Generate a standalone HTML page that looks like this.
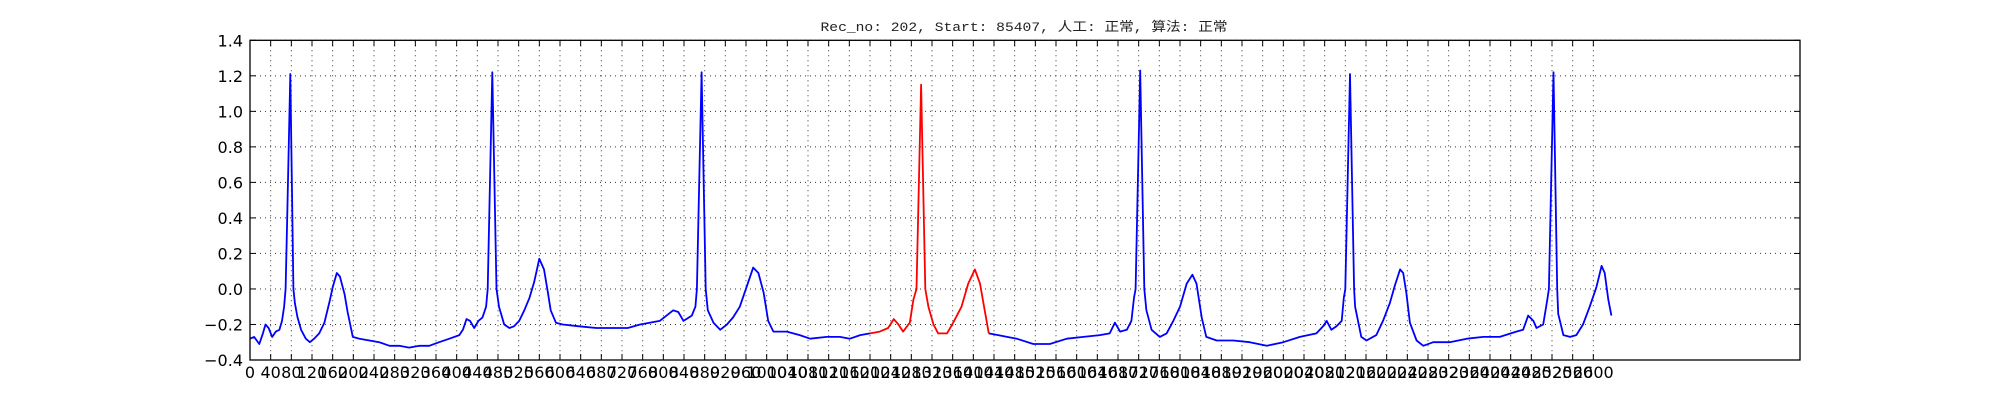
<!DOCTYPE html>
<html><head><meta charset="utf-8">
<style>
html,body{margin:0;padding:0;background:#fff;}
svg{display:block;}
text{font-family:"DejaVu Sans","Liberation Sans",sans-serif;}
</style></head>
<body>
<svg id="chart" width="2000" height="400" viewBox="0 0 2000 400" xmlns="http://www.w3.org/2000/svg">
<rect width="2000" height="400" fill="#fff"/>
<text x="1024" y="31" text-anchor="middle" font-size="13" style="font-family:'Liberation Mono','Noto Sans CJK SC',monospace" fill="#222" textLength="407" lengthAdjust="spacingAndGlyphs">Rec_no: 202, Start: 85407, 人工: 正常, 算法: 正常</text>
<g id="grid"></g>
<g id="ticks"></g>
<g id="series"></g>
<rect x="250" y="40.3" width="1550" height="319.7" fill="none" stroke="#000" stroke-width="1.3"/>
</svg>
<script>
const sampleX = [0,8,18,25,30,36,43,50,57,62,66,69,72,78,84,87,92,99,108,116,124,134,144,154,160,168,174,183,189,199,212,231,250,270,289,308,328,347,366,386,405,412,419,426,434,442,450,457,460,469,477,482,492,502,511,521,531,541,550,560,569,576,582,592,605,637,670,702,731,755,793,819,829,839,855,862,865,874,882,886,897,910,923,935,948,961,974,984,994,1003,1013,1039,1064,1084,1116,1142,1161,1181,1200,1219,1235,1246,1255,1264,1277,1284,1290,1299,1307,1313,1323,1332,1349,1361,1377,1390,1403,1413,1422,1430,1448,1484,1516,1548,1581,1613,1645,1664,1674,1684,1697,1706,1711,1714,1723,1731,1735,1745,1761,1774,1787,1800,1813,1824,1832,1842,1851,1871,1903,1935,1968,2000,2032,2064,2077,2084,2093,2103,2113,2117,2120,2129,2137,2139,2151,2161,2180,2193,2206,2216,2226,2232,2238,2245,2258,2271,2290,2322,2355,2387,2419,2451,2464,2474,2484,2490,2503,2511,2514,2523,2530,2532,2542,2555,2567,2580,2593,2606,2616,2622,2629,2635];
const sampleY = [-0.28,-0.27,-0.31,-0.25,-0.20,-0.22,-0.27,-0.24,-0.23,-0.18,-0.10,0.0,0.4,1.21,0.0,-0.08,-0.16,-0.23,-0.28,-0.30,-0.28,-0.25,-0.19,-0.07,0.01,0.09,0.07,-0.03,-0.13,-0.27,-0.28,-0.29,-0.30,-0.32,-0.32,-0.33,-0.32,-0.32,-0.30,-0.28,-0.26,-0.23,-0.17,-0.18,-0.22,-0.18,-0.16,-0.10,0.0,1.22,0.0,-0.10,-0.20,-0.22,-0.21,-0.18,-0.12,-0.05,0.04,0.17,0.11,-0.01,-0.12,-0.19,-0.20,-0.21,-0.22,-0.22,-0.22,-0.20,-0.18,-0.12,-0.13,-0.18,-0.15,-0.10,0.0,1.22,0.0,-0.12,-0.19,-0.23,-0.20,-0.16,-0.10,0.01,0.12,0.09,-0.02,-0.18,-0.24,-0.24,-0.26,-0.28,-0.27,-0.27,-0.28,-0.26,-0.25,-0.24,-0.22,-0.17,-0.20,-0.24,-0.19,-0.06,0.0,1.15,0.0,-0.10,-0.20,-0.25,-0.25,-0.19,-0.10,0.03,0.11,0.03,-0.12,-0.25,-0.26,-0.28,-0.31,-0.31,-0.28,-0.27,-0.26,-0.25,-0.19,-0.24,-0.23,-0.18,-0.05,0.0,1.23,0.0,-0.12,-0.23,-0.27,-0.25,-0.18,-0.10,0.03,0.08,0.03,-0.16,-0.27,-0.29,-0.29,-0.30,-0.32,-0.30,-0.27,-0.25,-0.21,-0.18,-0.23,-0.21,-0.18,-0.05,0.0,1.21,0.0,-0.10,-0.27,-0.29,-0.26,-0.18,-0.08,0.02,0.11,0.09,-0.02,-0.19,-0.29,-0.32,-0.30,-0.30,-0.28,-0.27,-0.27,-0.24,-0.23,-0.15,-0.18,-0.22,-0.20,-0.06,0.0,1.22,0.0,-0.14,-0.26,-0.27,-0.26,-0.20,-0.10,0.01,0.13,0.09,-0.06,-0.15];
const redStart = 1200, redEnd = 1430;
const yTicks = [-0.4,-0.2,0.0,0.2,0.4,0.6,0.8,1.0,1.2,1.4];
const yTickLabels = ["\u22120.4","\u22120.2","0.0","0.2","0.4","0.6","0.8","1.0","1.2","1.4"];
const xTicks = [];
for (let v = 0; v <= 2600; v += 40) xTicks.push(v);

const X0=250, X1=1800, Y0=360, Y1=40.3, XMAX=3000, YMIN=-0.4, YMAX=1.4;
const sx = v => X0 + (v/XMAX)*(X1-X0);
const sy = v => Y0 - (v-YMIN)/(YMAX-YMIN)*(Y0-Y1);
const NS="http://www.w3.org/2000/svg";
const grid=document.getElementById('grid'), ticks=document.getElementById('ticks'), series=document.getElementById('series');
function mk(tag, attrs, parent){const e=document.createElementNS(NS,tag);for(const k in attrs)e.setAttribute(k,attrs[k]);parent.appendChild(e);return e;}

yTicks.forEach((v,i)=>{
  const y=sy(v);
  const g=mk('line',{x1:X0,x2:X1,y1:y,y2:y,stroke:'#333','stroke-width':1,'stroke-dasharray':'1,4'},grid);
  
  
  mk('line',{x1:X0,x2:X0+6,y1:y,y2:y,stroke:'#000','stroke-width':1},ticks);
  mk('line',{x1:X1-6,x2:X1,y1:y,y2:y,stroke:'#000','stroke-width':1},ticks);
  const t=mk('text',{x:243,y:y+6,'text-anchor':'end','font-size':16,fill:'#000'},ticks);
  t.textContent=yTickLabels[i];
  
  
});
xTicks.forEach(v=>{
  const x=sx(v);
  const g=mk('line',{x1:x,x2:x,y1:Y1,y2:Y0,stroke:'#333','stroke-width':1,'stroke-dasharray':'1,4'},grid);
  
  
  mk('line',{x1:x,x2:x,y1:Y0-6,y2:Y0,stroke:'#000','stroke-width':1},ticks);
  mk('line',{x1:x,x2:x,y1:Y1,y2:Y1+6,stroke:'#000','stroke-width':1},ticks);
  const t=mk('text',{x:x,y:378,'text-anchor':'middle','font-size':16,fill:'#000'},ticks);
  t.textContent=String(v);
  
  
});

function seg(lo, hi){
  const pts=[];
  for(let i=0;i<sampleX.length;i++){ if(sampleX[i]>=lo && sampleX[i]<=hi) pts.push(sx(sampleX[i]).toFixed(1)+','+sy(sampleY[i]).toFixed(1)); }
  return pts.join(' ');
}
const b1=mk('polyline',{points:seg(0,redStart),fill:'none',stroke:'#0000ff','stroke-width':1.8,'stroke-linejoin':'round'},series);


const r=mk('polyline',{points:seg(redStart,redEnd),fill:'none',stroke:'#ff0000','stroke-width':1.8,'stroke-linejoin':'round'},series);


const b2=mk('polyline',{points:seg(redEnd,99999),fill:'none',stroke:'#0000ff','stroke-width':1.8,'stroke-linejoin':'round'},series);


</script>
</body></html>
